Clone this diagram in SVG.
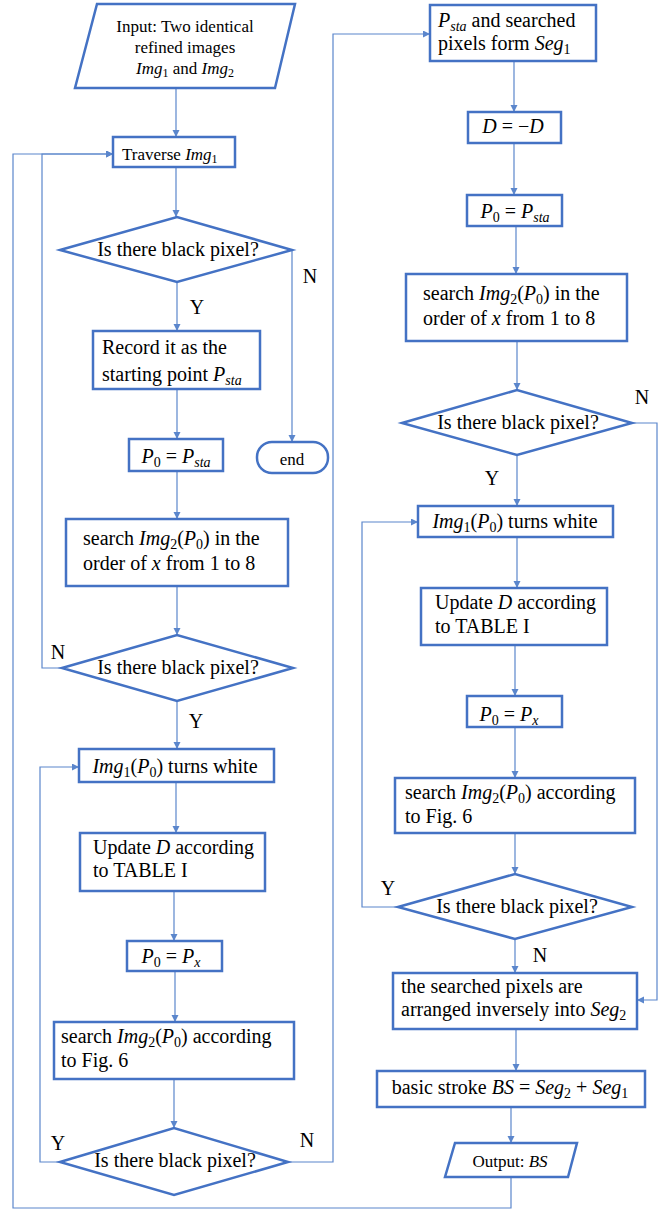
<svg xmlns="http://www.w3.org/2000/svg" width="667" height="1211" viewBox="0 0 667 1211">
<defs>
<style>
.b{fill:#fff;stroke:#4472C4;stroke-width:2.5}
.c{fill:none;stroke:#5B86CC;stroke-width:1.2}
.t{font-family:"Liberation Serif","Times New Roman",serif;font-size:20px;fill:#000}
.t17{font-family:"Liberation Serif","Times New Roman",serif;font-size:17px;fill:#000}
.m{font-style:italic}
.s{font-size:14px}
.s2{font-size:12px}
.mid{text-anchor:middle}
</style>
<marker id="ah" markerUnits="userSpaceOnUse" markerWidth="8" markerHeight="8" refX="7" refY="3.5" orient="auto">
<path d="M0,0 L7,3.5 L0,7 z" fill="#5B86CC"/>
</marker>
</defs>
<rect width="667" height="1211" fill="#fff"/>

<g id="connectors" class="c" marker-end="url(#ah)">
<path d="M176,88 V137"/>
<path d="M176,167 V217"/>
<path d="M177,282 V331"/>
<path d="M292,250 V442"/>
<path d="M177,389 V439"/>
<path d="M177,471 V519"/>
<path d="M177,586 V635"/>
<path d="M62,668 H42 V154 H113"/>
<path d="M177,701 V749"/>
<path d="M176,782 V833"/>
<path d="M174,891 V941"/>
<path d="M175,971 V1022"/>
<path d="M174,1079 V1128"/>
<path d="M60,1162 H40 V767 H79"/>
<path d="M288,1162 H333 V34 H430"/>
<path d="M514,61 V112"/>
<path d="M514,143 V195"/>
<path d="M516,226 V274"/>
<path d="M517,341 V390"/>
<path d="M517,455 V506"/>
<path d="M632,423 H657 V1000 H637"/>
<path d="M517,537 V588"/>
<path d="M515,645 V696"/>
<path d="M515,727 V778"/>
<path d="M515,833 V874"/>
<path d="M398,907 H362 V522 H418"/>
<path d="M515,939 V973"/>
<path d="M516,1029 V1071"/>
<path d="M511,1107 V1143"/>
<path d="M511,1177 V1208 H13 V154 H113"/>
</g>

<g id="labels" class="t">
<text x="310" y="283" class="mid">N</text>
<text x="197" y="314" class="mid">Y</text>
<text x="58" y="659" class="mid">N</text>
<text x="196" y="728" class="mid">Y</text>
<text x="58" y="1150" class="mid">Y</text>
<text x="307" y="1147" class="mid">N</text>
<text x="642" y="404" class="mid">N</text>
<text x="492" y="485" class="mid">Y</text>
<text x="388" y="895" class="mid">Y</text>
<text x="540" y="962" class="mid">N</text>
</g>

<g id="input">
<polygon class="b" points="97,4 295,4 275,88 75,88"/>
<text class="t17 mid" x="185" y="32">Input: Two identical</text>
<text class="t17 mid" x="185" y="53">refined images</text>
<text class="t17 mid" x="185" y="74"><tspan class="m">Img</tspan><tspan class="s2" dy="3">1</tspan><tspan dy="-3"> and </tspan><tspan class="m">Img</tspan><tspan class="s2" dy="3">2</tspan></text>
</g>

<g id="traverse">
<rect class="b" x="113" y="137" width="122" height="30"/>
<text class="t17" x="122" y="160">Traverse <tspan class="m">Img</tspan><tspan class="s2" dy="3">1</tspan></text>
</g>

<g id="d1">
<polygon class="b" points="60,250 177,217 292,250 177,282"/>
<text class="t mid" x="178" y="256">Is there black pixel?</text>
</g>

<g id="record">
<rect class="b" x="93" y="331" width="167" height="58"/>
<text class="t" x="102" y="354">Record it as the</text>
<text class="t" x="102" y="381">starting point <tspan class="m">P</tspan><tspan class="s m" dy="4">sta</tspan></text>
</g>

<g id="end">
<rect class="b" x="257" y="442" width="71" height="31" rx="15"/>
<text class="t17 mid" x="292" y="465">end</text>
</g>

<g id="p0sta_l">
<rect class="b" x="129" y="439" width="94" height="32"/>
<text class="t mid" x="176" y="463"><tspan class="m">P</tspan><tspan class="s" dy="4">0</tspan><tspan dy="-4"> = </tspan><tspan class="m">P</tspan><tspan class="s m" dy="4">sta</tspan></text>
</g>

<g id="search1_l">
<rect class="b" x="66" y="519" width="222" height="67"/>
<text class="t" x="83" y="545">search <tspan class="m">Img</tspan><tspan class="s" dy="4">2</tspan><tspan dy="-4">(</tspan><tspan class="m">P</tspan><tspan class="s" dy="4">0</tspan><tspan dy="-4">) in the</tspan></text>
<text class="t" x="83" y="570">order of <tspan class="m">x</tspan> from 1 to 8</text>
</g>

<g id="d2">
<polygon class="b" points="62,668 177,635 293,668 177,701"/>
<text class="t mid" x="178" y="674">Is there black pixel?</text>
</g>

<g id="white_l">
<rect class="b" x="79" y="749" width="195" height="33"/>
<text class="t mid" x="175" y="773"><tspan class="m">Img</tspan><tspan class="s" dy="4">1</tspan><tspan dy="-4">(</tspan><tspan class="m">P</tspan><tspan class="s" dy="4">0</tspan><tspan dy="-4">) turns white</tspan></text>
</g>

<g id="update_l">
<rect class="b" x="80" y="833" width="185" height="58"/>
<text class="t" x="93" y="854">Update <tspan class="m">D</tspan> according</text>
<text class="t" x="93" y="877">to TABLE I</text>
</g>

<g id="p0px_l">
<rect class="b" x="127" y="941" width="95" height="30"/>
<text class="t mid" x="171" y="963"><tspan class="m">P</tspan><tspan class="s" dy="4">0</tspan><tspan dy="-4"> = </tspan><tspan class="m">P</tspan><tspan class="s m" dy="4">x</tspan></text>
</g>

<g id="search2_l">
<rect class="b" x="54" y="1022" width="240" height="57"/>
<text class="t" x="61" y="1043">search <tspan class="m">Img</tspan><tspan class="s" dy="4">2</tspan><tspan dy="-4">(</tspan><tspan class="m">P</tspan><tspan class="s" dy="4">0</tspan><tspan dy="-4">) according</tspan></text>
<text class="t" x="61" y="1067">to Fig. 6</text>
</g>

<g id="d3">
<polygon class="b" points="60,1162 174,1128 288,1162 174,1195"/>
<text class="t mid" x="175" y="1167">Is there black pixel?</text>
</g>

<g id="seg1">
<rect class="b" x="430" y="5" width="166" height="56"/>
<text class="t" x="438" y="27"><tspan class="m">P</tspan><tspan class="s m" dy="4">sta</tspan><tspan dy="-4"> and searched</tspan></text>
<text class="t" x="438" y="50">pixels form <tspan class="m">Seg</tspan><tspan class="s" dy="4">1</tspan></text>
</g>

<g id="dneg">
<rect class="b" x="468" y="112" width="93" height="31"/>
<text class="t mid" x="513" y="133"><tspan class="m">D</tspan> = −<tspan class="m">D</tspan></text>
</g>

<g id="p0sta_r">
<rect class="b" x="467" y="195" width="95" height="31"/>
<text class="t mid" x="515" y="218"><tspan class="m">P</tspan><tspan class="s" dy="4">0</tspan><tspan dy="-4"> = </tspan><tspan class="m">P</tspan><tspan class="s m" dy="4">sta</tspan></text>
</g>

<g id="search1_r">
<rect class="b" x="406" y="274" width="221" height="67"/>
<text class="t" x="423" y="300">search <tspan class="m">Img</tspan><tspan class="s" dy="4">2</tspan><tspan dy="-4">(</tspan><tspan class="m">P</tspan><tspan class="s" dy="4">0</tspan><tspan dy="-4">) in the</tspan></text>
<text class="t" x="423" y="325">order of <tspan class="m">x</tspan> from 1 to 8</text>
</g>

<g id="d4">
<polygon class="b" points="402,423 517,390 632,423 517,455"/>
<text class="t mid" x="518" y="429">Is there black pixel?</text>
</g>

<g id="white_r">
<rect class="b" x="418" y="506" width="195" height="31"/>
<text class="t mid" x="515" y="528"><tspan class="m">Img</tspan><tspan class="s" dy="4">1</tspan><tspan dy="-4">(</tspan><tspan class="m">P</tspan><tspan class="s" dy="4">0</tspan><tspan dy="-4">) turns white</tspan></text>
</g>

<g id="update_r">
<rect class="b" x="421" y="588" width="186" height="57"/>
<text class="t" x="435" y="609">Update <tspan class="m">D</tspan> according</text>
<text class="t" x="435" y="633">to TABLE I</text>
</g>

<g id="p0px_r">
<rect class="b" x="467" y="696" width="95" height="31"/>
<text class="t mid" x="509" y="721"><tspan class="m">P</tspan><tspan class="s" dy="4">0</tspan><tspan dy="-4"> = </tspan><tspan class="m">P</tspan><tspan class="s m" dy="4">x</tspan></text>
</g>

<g id="search2_r">
<rect class="b" x="395" y="778" width="240" height="55"/>
<text class="t" x="405" y="799">search <tspan class="m">Img</tspan><tspan class="s" dy="4">2</tspan><tspan dy="-4">(</tspan><tspan class="m">P</tspan><tspan class="s" dy="4">0</tspan><tspan dy="-4">) according</tspan></text>
<text class="t" x="405" y="823">to Fig. 6</text>
</g>

<g id="d5">
<polygon class="b" points="398,907 515,874 632,907 515,939"/>
<text class="t mid" x="517" y="913">Is there black pixel?</text>
</g>

<g id="arranged">
<rect class="b" x="393" y="973" width="244" height="56"/>
<text class="t" x="401" y="993">the searched pixels  are</text>
<text class="t" x="401" y="1016">arranged inversely into <tspan class="m">Seg</tspan><tspan class="s" dy="4">2</tspan></text>
</g>

<g id="basic">
<rect class="b" x="377" y="1071" width="268" height="36"/>
<text class="t mid" x="510" y="1094">basic stroke <tspan class="m">BS</tspan> = <tspan class="m">Seg</tspan><tspan class="s" dy="4">2</tspan><tspan dy="-4"> + </tspan><tspan class="m">Seg</tspan><tspan class="s" dy="4">1</tspan></text>
</g>

<g id="output">
<polygon class="b" points="455,1143 577,1143 568,1177 445,1177"/>
<text class="t17 mid" x="510" y="1167">Output: <tspan class="m">BS</tspan></text>
</g>
</svg>
